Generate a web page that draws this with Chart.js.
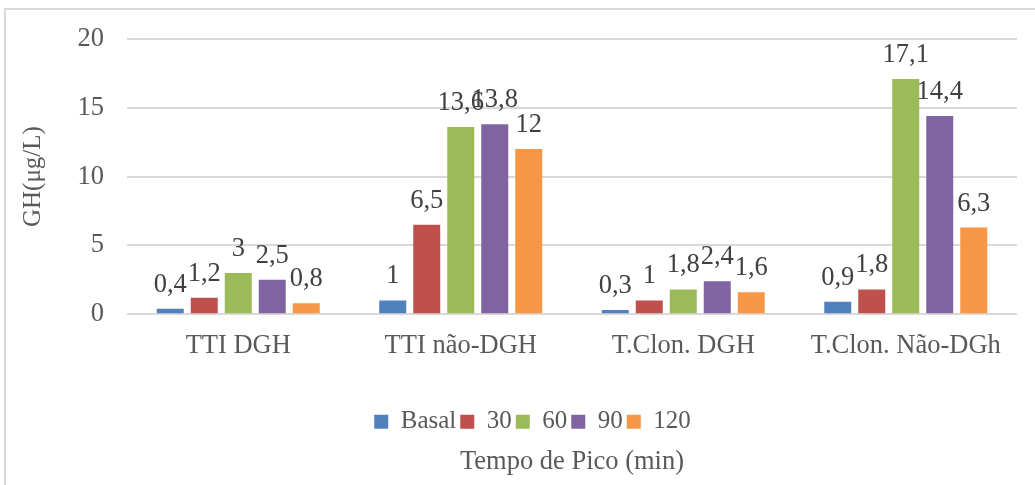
<!DOCTYPE html>
<html>
<head>
<meta charset="utf-8">
<script src="https://cdn.jsdelivr.net/npm/chart.js@4"></script>
<style>
  html, body { margin: 0; padding: 0; background: #fff; overflow: hidden; }
  #frame {
    position: absolute; left: 4px; top: 8px;
    width: 1100px; height: 500px;
    border-top: 2px solid #d9d9d9;
    border-left: 2px solid #d9d9d9;
  }
  #chartGH { display: block; }
</style>
</head>
<body>
<div id="frame">
  <canvas id="chartGH" width="1054" height="475"></canvas>
</div>
<script>
// GH por tempo de pico - gráfica de barras agrupadas

const categorias = ['TTI DGH', 'TTI não-DGH', 'T.Clon. DGH', 'T.Clon. Não-DGh'];
const series = ['Basal', '30', '60', '90', '120'];

const basal = [0.4, 1, 0.3, 0.9];
const min30 = [1.2, 6.5, 1, 1.8];
const min60 = [3, 13.6, 1.8, 17.1];
const min90 = [2.5, 13.8, 2.4, 14.4];
const min120 = [0.8, 12, 1.6, 6.3];

const yTicks = [0, 5, 10, 15, 20];

const CORES = ['#4F81BD', '#C0504D', '#9BBB59', '#8064A2', '#F79646'];
const FONTE = "'Liberation Serif', 'Times New Roman', serif";
const CINZA = '#595959';
const TAM = 26.5;

// Rótulos de dados acima das barras (vírgula decimal)
const rotulosPlugin = {
    id: 'rotulos',
    afterDatasetsDraw(chart) {
        const ctx = chart.ctx;
        ctx.save();
        ctx.font = TAM + 'px ' + FONTE;
        ctx.fillStyle = '#404040';
        ctx.textAlign = 'center';
        ctx.textBaseline = 'alphabetic';
        chart.data.datasets.forEach((ds, i) => {
            const meta = chart.getDatasetMeta(i);
            meta.data.forEach((bar, j) => {
                const txt = String(ds.data[j]).replace('.', ',');
                ctx.fillText(txt, bar.x, bar.y - 17);
            });
        });
        ctx.restore();
    }
};

// A legenda fica centrada na área total do gráfico, não só até o padding direito
const legendaPlugin = {
    id: 'legendaCentro',
    afterLayout(chart) {
        const lg = chart.legend;
        if (!lg) return;
        lg.left += 21;
        lg.right += 21;
    }
};

const datasets = [basal, min30, min60, min90, min120].map((d, i) => ({
    label: series[i],
    data: d,
    backgroundColor: CORES[i],
    categoryPercentage: 0.764,
    barPercentage: 0.794
}));

new Chart(document.getElementById('chartGH'), {
    type: 'bar',
    data: { labels: categorias, datasets: datasets },
    plugins: [rotulosPlugin, legendaPlugin],
    options: {
        responsive: false,
        animation: false,
        layout: { padding: { top: 29, right: 43, left: 0, bottom: 0 } },
        plugins: {
            tooltip: { enabled: false },
            legend: {
                position: 'bottom',
                labels: {
                    color: CINZA,
                    boxWidth: 14,
                    boxHeight: 14,
                    padding: 4,
                    font: { family: FONTE, size: 25 }
                }
            },
            title: {
                display: true,
                text: 'Tempo de Pico (min)',
                position: 'bottom',
                fullSize: false,
                color: CINZA,
                padding: { top: 2, bottom: 7 },
                font: { family: FONTE, size: TAM, weight: 'normal' }
            }
        },
        scales: {
            x: {
                grid: { display: false },
                border: { display: false },
                ticks: {
                    color: CINZA,
                    padding: 8,
                    font: { family: FONTE, size: TAM }
                },
                afterFit: (scale) => { scale.height = 91; }
            },
            y: {
                min: 0,
                max: 20,
                afterBuildTicks: (scale) => {
                    scale.ticks = yTicks.map(v => ({ value: v }));
                },
                grid: { color: '#d9d9d9', lineWidth: 2, drawTicks: false },
                border: { display: false },
                ticks: {
                    color: CINZA,
                    padding: 23,
                    font: { family: FONTE, size: TAM }
                },
                title: {
                    display: true,
                    text: 'GH(μg/L)',
                    color: CINZA,
                    padding: { top: 12, bottom: 0 },
                    font: { family: FONTE, size: 25 }
                },
                afterFit: (scale) => {
                    scale.width = 121;
                    scale.paddingTop = 0;
                }
            }
        }
    }
});
</script>
</body>
</html>
